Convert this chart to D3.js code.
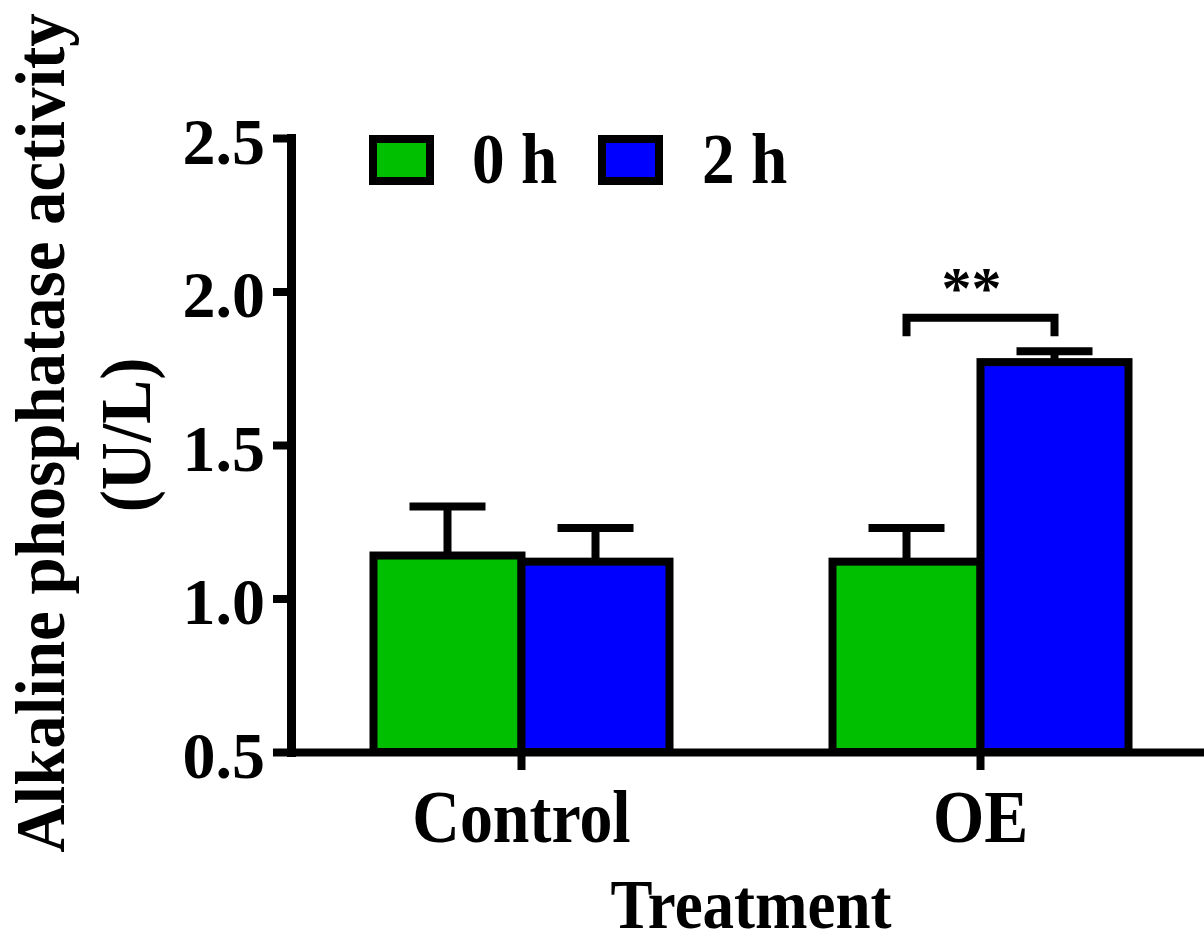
<!DOCTYPE html>
<html>
<head>
    <style>
        body { margin: 0; background: #fff; }
        svg text { font-family: "Liberation Serif", "Times New Roman", serif; font-weight: bold; fill: #000; }
    </style>
    <script src="https://d3js.org/d3.v7.min.js"></script>
</head>
<body>
    <div id="chart"></div>
    <script>
        // data
        const categories = ["Control", "OE"];
        const seriesNames = ["0 h", "2 h"];
        const mean0h = [1.14, 1.12];
        const err0h = [0.16, 0.11];
        const mean2h = [1.12, 1.77];
        const err2h = [0.11, 0.035];
        const yTicks = [0.5, 1.0, 1.5, 2.0, 2.5];
        const sigCategories = ["OE"];
        const sigLabels = ["**"];

        const colors = ["#00be00", "#0000ff"];
        const width = 1204, height = 944;
        const lw = 8;

        const svg = d3.select("#chart").append("svg")
            .attr("width", width)
            .attr("height", height);

        const y = d3.scaleLinear().domain([0.5, 2.5]).range([752, 138]);
        const x = d3.scaleBand().domain(categories).range([292, 1210]);
        const barW = 148;
        const xs = d3.scaleBand().domain(seriesNames).range([-barW, barW]);

        const rows = categories.map((c, i) => ({
            cat: c,
            vals: [
                {s: seriesNames[0], mean: mean0h[i], err: err0h[i], color: colors[0]},
                {s: seriesNames[1], mean: mean2h[i], err: err2h[i], color: colors[1]}
            ]
        }));

        // helper for text with slight horizontal condensing
        function label(parent, str, tx, ty, size, anchor, sx, rot) {
            const g = parent.append("g")
                .attr("transform", `translate(${tx},${ty}) rotate(${rot || 0}) scale(${sx},1)`);
            g.append("text")
                .attr("text-anchor", anchor)
                .style("font-size", size + "px")
                .text(str);
            return g;
        }

        // bars
        const grp = svg.selectAll(".grp")
            .data(rows)
            .enter().append("g")
            .attr("class", "grp")
            .attr("transform", d => `translate(${x(d.cat) + x.bandwidth() / 2},0)`);

        const bar = grp.selectAll(".bar")
            .data(d => d.vals)
            .enter().append("g")
            .attr("class", "bar");

        // error bars (upper only)
        bar.append("line")
            .attr("x1", d => xs(d.s) + xs.bandwidth() / 2)
            .attr("x2", d => xs(d.s) + xs.bandwidth() / 2)
            .attr("y1", d => y(d.mean))
            .attr("y2", d => y(d.mean + d.err))
            .attr("stroke", "#000").attr("stroke-width", lw);
        bar.append("line")
            .attr("x1", d => xs(d.s) + xs.bandwidth() / 2 - 38)
            .attr("x2", d => xs(d.s) + xs.bandwidth() / 2 + 38)
            .attr("y1", d => y(d.mean + d.err))
            .attr("y2", d => y(d.mean + d.err))
            .attr("stroke", "#000").attr("stroke-width", lw);

        bar.append("rect")
            .attr("x", d => xs(d.s))
            .attr("width", xs.bandwidth())
            .attr("y", d => y(d.mean))
            .attr("height", d => y(0.5) - y(d.mean))
            .attr("fill", d => d.color)
            .attr("stroke", "#000")
            .attr("stroke-width", lw);

        // significance bracket
        sigCategories.forEach((c, i) => {
            const r = rows.find(d => d.cat === c);
            const cx = x(c) + x.bandwidth() / 2;
            const top = d3.min(r.vals, v => y(v.mean + v.err));
            const xa = cx + xs(seriesNames[0]) + xs.bandwidth() / 2;
            const xb = cx + xs(seriesNames[1]) + xs.bandwidth() / 2;
            const yl = top - 33.5, yb = top - 15;
            svg.append("path")
                .attr("d", `M${xa},${yb}V${yl}H${xb}V${yb}`)
                .attr("fill", "none")
                .attr("stroke", "#000")
                .attr("stroke-width", lw);
            label(svg, sigLabels[i], cx - 9, yl - 10, 60, "middle", 1);
        });

        // y axis
        const yAxis = svg.append("g")
            .attr("transform", "translate(291,0)")
            .call(d3.axisLeft(y).tickValues(yTicks).tickFormat(d3.format(".1f"))
                .tickSize(18).tickSizeOuter(0));
        yAxis.select(".domain")
            .attr("stroke-width", 9).attr("stroke-linecap", "square");
        yAxis.selectAll(".tick line").attr("stroke-width", lw);
        yAxis.selectAll(".tick text")
            .attr("x", -26).attr("dy", "0.38em")
            .style("font-size", "66px")
            .style("font-family", "'Liberation Serif', serif");

        // x axis
        const xAxis = svg.append("g")
            .attr("transform", "translate(0,752)")
            .call(d3.axisBottom(x).tickSize(18).tickSizeOuter(0));
        xAxis.select(".domain").attr("stroke-width", lw);
        xAxis.selectAll(".tick line").attr("stroke-width", lw);
        xAxis.selectAll(".tick text")
            .attr("y", 90).attr("dy", 0)
            .attr("transform", "scale(0.89,1)")
            .style("font-size", "74px")
            .style("font-family", "'Liberation Serif', serif");

        // axis titles
        label(svg, "Treatment", 751, 928, 70, "middle", 0.9);
        label(svg, "Alkaline phosphatase activity", 64, 433, 70, "middle", 0.955, -90);
        label(svg, "(U/L)", 150, 435, 72, "middle", 0.92, -90);

        // legend
        const legX = [373, 602];
        const legTx = [472, 702];
        seriesNames.forEach((s, i) => {
            svg.append("rect")
                .attr("x", legX[i]).attr("y", 139)
                .attr("width", 57).attr("height", 42)
                .attr("fill", colors[i])
                .attr("stroke", "#000").attr("stroke-width", lw);
            label(svg, s, legTx[i], 183, 71, "start", 0.92);
        });
    </script>
</body>
</html>
